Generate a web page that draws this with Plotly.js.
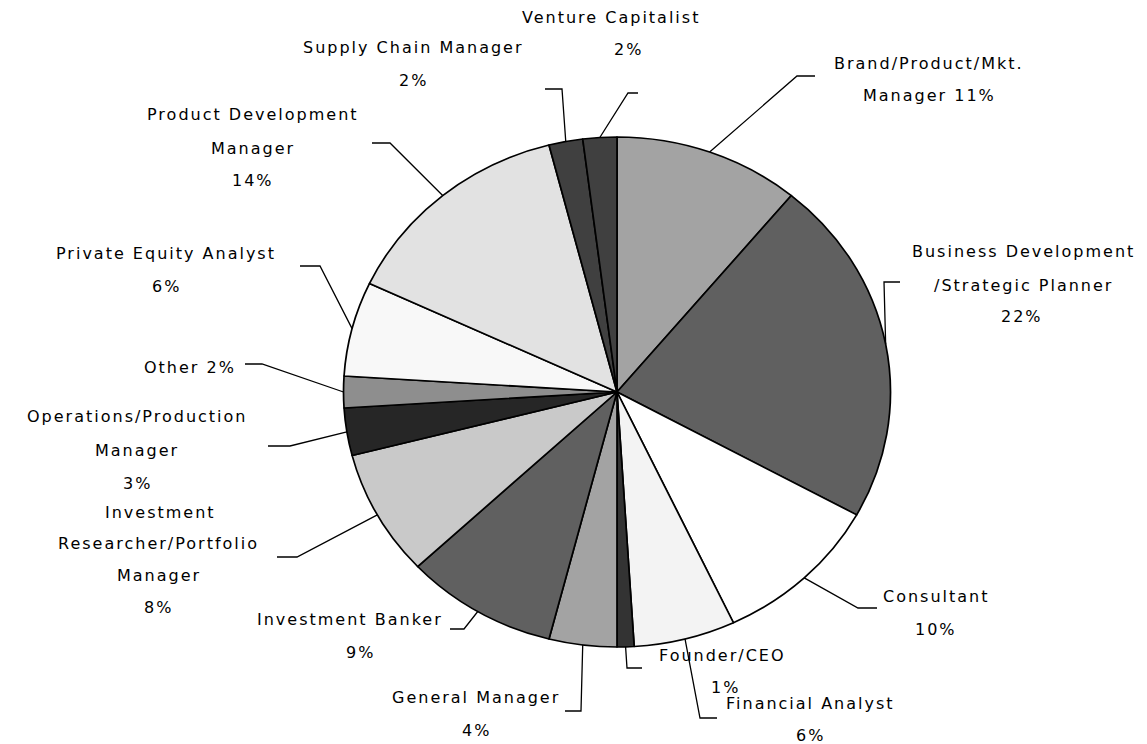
<!DOCTYPE html>
<html><head><meta charset="utf-8">
<script src="https://cdn.plot.ly/plotly-3.0.1.min.js"></script>
<style>
html,body{margin:0;padding:0;background:#fff;}
#chart{width:1147px;height:744px;}
.annotation-text{letter-spacing:2px;}
</style></head><body><div id="chart"></div>
<script>
// ---- data ----
const categories = [
  "Brand/Product/Mkt.<br>Manager",
  "Business Development<br>/Strategic Planner",
  "Consultant",
  "Financial Analyst",
  "Founder/CEO",
  "General Manager",
  "Investment Banker",
  "Investment<br>Researcher/Portfolio<br>Manager",
  "Operations/Production<br>Manager",
  "Other",
  "Private Equity Analyst",
  "Product Development<br>Manager",
  "Supply Chain Manager",
  "Venture Capitalist"
];
const values = [11, 22, 10, 6, 1, 4, 9, 8, 3, 2, 6, 14, 2, 2];
const colors = ["#a3a3a3","#606060","#ffffff","#f3f3f3","#333333","#a3a3a3","#606060",
                "#c9c9c9","#262626","#8e8e8e","#f8f8f8","#e2e2e2","#404040","#404040"];
const pctSameLine = [true,false,false,false,false,false,false,false,false,true,false,false,false,false];

// ---- label layout (pixel positions of each text line centre) ----
const labelLines = [
  [[929,63],[929,95]],
  [[1023,252],[1023,285],[1022,317]],
  [[936,596],[936,629]],
  [[810,703],[810,735]],
  [[723,655],[725,687]],
  [[476,697],[476,730]],
  [[350,619],[360,652]],
  [[160,512],[158,543],[159,575],[158,607]],
  [[137,417],[137,450],[137,483]],
  [[190,367]],
  [[166,254],[166,286]],
  [[253,115],[253,148],[253,180]],
  [[413,47],[413,80]],
  [[611,18],[628,50]]
];
// leader line elbows (pixel), final point is computed on the pie edge
const leaderElbows = [
  [[815,76],[797,76]],
  [[900,282],[884,282]],
  [[877,608],[858,608]],
  [[717,718],[700,718]],
  [[642,668],[627,668]],
  [[565,711],[581,711]],
  [[450,629],[464,629]],
  [[277,557],[297,557]],
  [[268,446],[290,446]],
  [[245,364],[262,364]],
  [[300,266],[320,266]],
  [[372,143],[390,143]],
  [[545,89],[562,89]],
  [[638,93],[628,93]]
];

const W = 1147, H = 744;
const CX = 617, CY = 392, RY = 255, RX = 273.5;
const px = (x) => x / W;
const py = (y) => 1 - y / H;

const total = values.reduce((a,b)=>a+b,0);
const annotations = [];
const shapes = [];
let cum = 0;
values.forEach((v, i) => {
  const mid = (cum + v/2) / total * 2 * Math.PI;
  cum += v;
  const ex = CX + RX * Math.sin(mid);
  const ey = CY - RY * Math.cos(mid);
  const lines = categories[i].split("<br>");
  const pct = v + "%";
  if (pctSameLine[i]) lines[lines.length-1] += " " + pct; else lines.push(pct);
  lines.forEach((t, j) => {
    const p = labelLines[i][j];
    annotations.push({
      text: t, x: px(p[0]), y: py(p[1]), xref: "paper", yref: "paper",
      xanchor: "center", yanchor: "middle", showarrow: false,
      font: {family: "DejaVu Sans", size: 16, color: "#000"}
    });
  });
  const pts = leaderElbows[i].concat([[ex, ey]]);
  const path = pts.map((p, k) => (k ? "L" : "M") + px(p[0]) + "," + py(p[1])).join(" ");
  shapes.push({type: "path", xref: "paper", yref: "paper", path: path,
               line: {color: "#000", width: 1.3}});
});

const trace = {
  type: "pie",
  labels: categories,
  values: values,
  sort: false,
  direction: "clockwise",
  rotation: 0,
  textinfo: "none",
  hoverinfo: "none",
  showlegend: false,
  marker: {colors: colors, line: {color: "#000", width: 1.6}},
  domain: {x: [px(CX - RY), px(CX + RY)], y: [py(CY + RY), py(CY - RY)]}
};

const layout = {
  width: W, height: H,
  margin: {l: 0, r: 0, t: 0, b: 0},
  paper_bgcolor: "#fff", plot_bgcolor: "#fff",
  showlegend: false,
  annotations: annotations,
  shapes: shapes
};

Plotly.newPlot("chart", [trace], layout, {staticPlot: true, displayModeBar: false}).then(() => {
  const k = RX / RY;
  document.querySelectorAll(".pielayer .trace").forEach(g => {
    g.setAttribute("transform", `translate(${CX},0) scale(${k},1) translate(${-CX},0)`);
  });
});
</script>
</body></html>
